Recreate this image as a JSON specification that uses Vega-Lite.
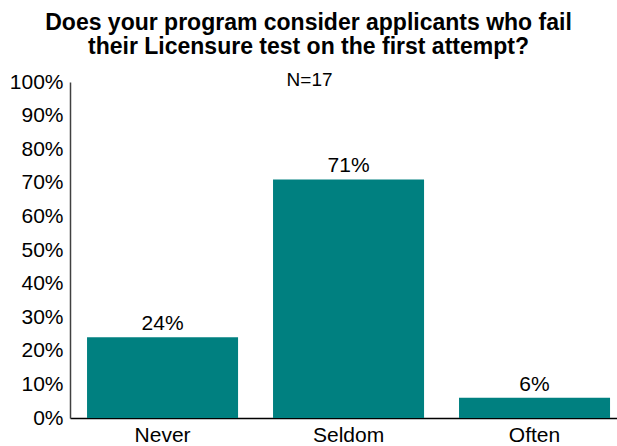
{
  "$schema": "https://vega.github.io/schema/vega-lite/v6.json",
  "autosize": {"type": "none"},
  "width": 547,
  "height": 336,
  "padding": {"left": 70, "top": 82, "right": 0, "bottom": 28},
  "background": "white",
  "config": {
    "font": "Liberation Sans",
    "view": {"stroke": null}
  },
  "title": {
    "text": ["Does your program consider applicants who fail", "their Licensure test on the first attempt?"],
    "fontSize": 23,
    "fontWeight": "bold",
    "color": "black",
    "anchor": "middle",
    "frame": "group",
    "dx": -35,
    "offset": 12,
    "lineHeight": 24
  },
  "data": {
    "values": [
      {"response": "Never", "pct": 24, "label": "24%"},
      {"response": "Seldom", "pct": 71, "label": "71%"},
      {"response": "Often", "pct": 6, "label": "6%"}
    ]
  },
  "encoding": {
    "x": {
      "field": "response",
      "type": "nominal",
      "sort": ["Never", "Seldom", "Often"],
      "scale": {"paddingInner": 0.188, "paddingOuter": 0.0645, "align": 0.71},
      "axis": {
        "title": null,
        "labelAngle": 0,
        "labelFontSize": 21,
        "labelColor": "black",
        "ticks": false,
        "labelPadding": 6,
        "domainColor": "black",
        "domainWidth": 1.5
      }
    },
    "y": {
      "field": "pct",
      "type": "quantitative",
      "scale": {"domain": [0, 100], "nice": false},
      "axis": {
        "title": null,
        "values": [0, 10, 20, 30, 40, 50, 60, 70, 80, 90, 100],
        "labelExpr": "datum.value + '%'",
        "labelFontSize": 21,
        "labelColor": "black",
        "labelOverlap": false,
        "labelFlush": false,
        "labelBound": false,
        "ticks": false,
        "grid": false,
        "labelPadding": 7,
        "domainColor": "#404040",
        "domainWidth": 1.5
      }
    }
  },
  "layer": [
    {
      "mark": {"type": "bar", "color": "#008080"}
    },
    {
      "mark": {"type": "text", "fontSize": 21, "color": "black", "baseline": "bottom", "dy": -3},
      "encoding": {
        "text": {"field": "label"}
      }
    },
    {
      "data": {"values": [{"response": "Seldom", "label": "N=17", "pct": 100}]},
      "mark": {"type": "text", "fontSize": 19, "color": "black", "baseline": "middle", "dx": -39, "dy": -2},
      "encoding": {
        "text": {"field": "label"}
      }
    }
  ]
}
